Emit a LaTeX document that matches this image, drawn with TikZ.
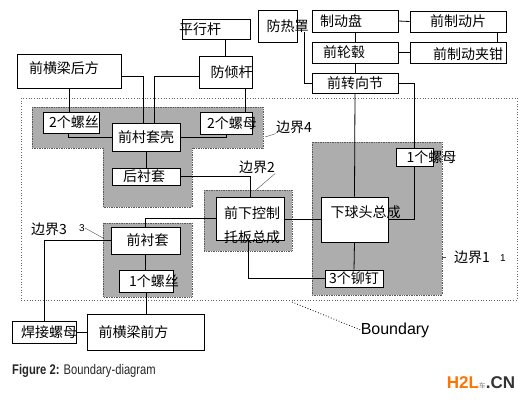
\documentclass[tikz,border=0pt]{standalone}
\usepackage{fontspec}
\newfontfamily\cjk{Noto Sans CJK SC}
\newfontfamily\lsans{Liberation Sans}
\newfontfamily\capfont[FakeStretch=0.8]{Liberation Sans}
\begin{document}
\begin{tikzpicture}[x=1pt, y=-1pt,
    box/.style={draw, fill=white, line width=0.7pt, inner sep=0pt},
    txt/.style={font=\cjk\fontsize{14}{16}\selectfont, inner sep=0pt},
    zone/.style={fill=black!32, draw=black!65, densely dotted, line width=0.7pt},
    wire/.style={line width=0.8pt},
    lead/.style={line width=0.4pt, black!70},
    tag/.style={font=\cjk\fontsize{14}{16}\selectfont, inner sep=0pt}]
  \useasboundingbox (0,0) rectangle (531,405);

  % Boundary and shaded zones
  \draw[dotted, black!60, line width=0.7pt] (21,98) rectangle (517,300);
  \draw[zone] (32,107) -- (263,107) -- (263,148) -- (192,148) -- (192,207)
    -- (103,207) -- (103,148) -- (32,148) -- cycle;
  \draw[zone] (204,190) rectangle (292,251);
  \draw[zone] (312,142) rectangle (442,295);
  \draw[zone] (103,223) rectangle (192,297);

  % Parts outside the boundary
  \node[box, minimum width=68, minimum height=20,
    label={[txt, xshift=-16pt]center:平行杆}] (pxg) at (216,29) {};
  \node[box, minimum width=53, minimum height=32,
    label={[txt, xshift=6pt]center:防倾杆}] (fqg) at (225.5,72) {};
  \node[box, minimum width=104, minimum height=34,
    label={[txt, xshift=-5pt, yshift=3pt]center:前横梁后方}] (hfh) at (69,71) {};
  \node[box, minimum width=39, minimum height=32,
    label={[txt, xshift=10pt]center:防热罩}] (frz) at (277.5,26) {};
  \coordinate (frzend) at (304,32);
  \node[box, minimum width=86, minimum height=22,
    label={[txt, xshift=-14pt]center:制动盘}] (zdp) at (355,21) {};
  \node[box, minimum width=96, minimum height=21,
    label={[txt]center:前制动片}] (zdpian) at (458,21.5) {};
  \node[box, minimum width=86, minimum height=21,
    label={[txt, xshift=-11pt]center:前轮毂}] (lg) at (355,52.5) {};
  \node[box, minimum width=96, minimum height=21,
    label={[txt, xshift=10pt, yshift=-2pt]center:前制动夹钳}] (qian) at (458,52.5) {};
  \node[box, minimum width=86, minimum height=20,
    label={[txt]center:前转向节}] (zxj) at (355,83) {};

  % Parts inside the boundary
  \node[box, minimum width=56, minimum height=21,
    label={[txt, xshift=3pt]center:2个螺丝}] (ls2) at (71,122.5) {};
  \node[box, minimum width=68, minimum height=28,
    label={[txt]center:前村套壳}] (tk) at (146,137) {};
  \node[box, minimum width=52, minimum height=22,
    label={[txt, xshift=6pt]center:2个螺母}] (lm2) at (226,123) {};
  \node[box, minimum width=68, minimum height=17,
    label={[txt, xshift=-2pt]center:后衬套}] (hcht) at (146,176.5) {};
  \node[box, minimum width=37, minimum height=18,
    label={[txt, xshift=17pt]center:1个螺母}] (lm1) at (414.5,157) {};
  \node[box, minimum width=68, minimum height=43,
    label={[txt, align=center, font=\cjk\fontsize{14}{24}\selectfont,
      xshift=2pt, yshift=-6.5pt]center:前下控制\\托板总成}] (kz) at (250,218.5) {};
  \node[box, minimum width=67, minimum height=45,
    label={[txt, xshift=11pt, yshift=7.5pt]center:下球头总成}] (qt) at (354.5,219.5) {};
  \node[box, minimum width=58, minimum height=17,
    label={[txt]center:3个铆钉}] (md) at (354,278.5) {};
  \node[box, minimum width=69, minimum height=27,
    label={[txt, xshift=2pt]center:前衬套}] (cht) at (145.5,240.5) {};
  \node[box, minimum width=54, minimum height=22,
    label={[txt, xshift=8pt]center:1个螺丝}] (ls1) at (146,281) {};
  \node[box, minimum width=117, minimum height=36,
    label={[txt, xshift=-12pt]center:前横梁前方}] (qfq) at (145.5,332) {};
  \node[box, minimum width=64, minimum height=22,
    label={[txt, xshift=5pt]center:焊接螺母}] (hj) at (44,332) {};

  % Connections
  \draw[wire] (hfh.south) -- (hfh.south |- ls2.north);
  \draw[wire] ([yshift=-5pt]hfh.east) -| ([xshift=-3pt]tk.north);
  \draw[wire] ([yshift=-4pt]fqg.west) -| ([xshift=8pt]tk.north);
  \draw[wire] (fqg.north |- pxg.south) -- (fqg.north);
  \draw[wire] ([xshift=20pt]fqg.south) -- ([xshift=20pt]fqg.south |- lm2.north);
  \draw[wire] ([xshift=-3pt]ls2.south) |- (tk.west);
  \draw[wire] (tk.east) -| (lm2.south);
  \draw[wire] (tk.south) -- (hcht.north);
  \draw[wire] (hcht.east) -| (kz.north);
  \draw[wire] (zdp.east) -- (zdpian.west);
  \draw[wire] (zdp.south) -- (lg.north);
  \draw[wire] (lg.east) -- (qian.west);
  \draw[wire] ([xshift=39pt]zdpian.south) -- ([xshift=39pt]qian.north);
  \draw[wire] (lg.south) -- (zxj.north);
  \draw[wire] (frzend) |- (zxj.west);
  \draw[wire] (zxj.south) -- (qt.north);
  \draw[wire] (zxj.east) -| (lm1.north);
  \draw[wire] (lm1.south) |- (qt.east);
  \draw[wire] (qt.west -| kz.east) -- (qt.west);
  \draw[wire] (kz.west) -| (cht.north);
  \draw[wire] ([xshift=-2pt]kz.south) |- (md.west);
  \draw[wire] (qt.south) -- (md.north);
  \draw[wire] (cht.south) -- (cht.south |- ls1.north);
  \draw[wire] (ls1.south) -- (ls1.south |- qfq.north);
  \draw[wire] (hj.east) -- (qfq.west);
  \draw[wire] (hj.north) |- (cht.west);

  % Zone labels
  \node[tag] (b4) at (294,127) {边界4};
  \draw[lead] (265,137) -- (b4.south west);
  \node[tag] (b2) at (257,167) {边界2};
  \draw[lead] (b2.south east) -- (256,190);
  \node[tag] (b3) at (49,229) {边界3};
  \node[font=\lsans\fontsize{10}{11}\selectfont, inner sep=0pt] (b3n) at (82,228) {3};
  \draw[lead] (b3n.east) -- (103,238);
  \node[tag] (b1) at (472,257) {边界1};
  \node[font=\lsans\fontsize{10}{11}\selectfont, inner sep=0pt] (b1n) at (503,258) {1};
  \draw[lead] (442,257) -- (446,257);
  \node[font=\lsans\fontsize{16}{18}\selectfont, inner sep=0pt] (bd) at (395,330) {Boundary};
  \draw[dotted, line width=0.8pt] (292,302) -- (bd.west);

  % Caption and mark
  \node[anchor=west, inner sep=0pt, text=black!85,
    font=\capfont\fontsize{14}{16}\selectfont] (cap) at (12,371)
    {\textbf{Figure 2:} Boundary-diagram};
  \node[inner sep=0pt, font=\lsans\bfseries\fontsize{17}{18}\selectfont] (wm) at (481,383)
    {\textcolor{orange!90!red}{H2L}{\cjk\mdseries\fontsize{7}{8}\selectfont\textcolor{gray}{车}}\textcolor{black!80}{.CN}};
\end{tikzpicture}
\end{document}
